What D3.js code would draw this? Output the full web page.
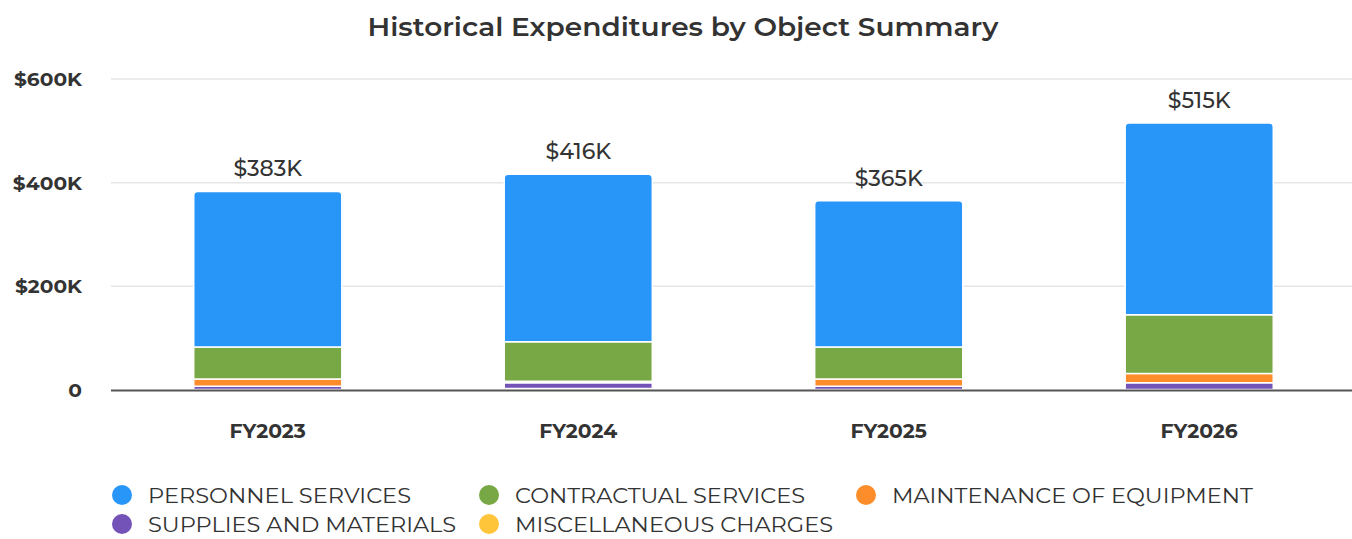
<!DOCTYPE html>
<html>
<head>
<meta charset="utf-8">
<script src="https://cdn.jsdelivr.net/npm/d3@7"></script>
<style>
  html, body { margin: 0; padding: 0; background: #fff; }
  svg { display: block; font-family: "Montserrat", "Noto Sans", "Open Sans", sans-serif; }
</style>
</head>
<body>
<svg id="chart" width="1352" height="539"></svg>
<script>
const categories = ["FY2023", "FY2024", "FY2025", "FY2026"];
const seriesNames = ["PERSONNEL SERVICES", "CONTRACTUAL SERVICES", "MAINTENANCE OF EQUIPMENT", "SUPPLIES AND MATERIALS", "MISCELLANEOUS CHARGES"];
const personnel   = [300, 323, 282, 370];
const contractual = [62, 76, 62, 113];
const maintenance = [14, 3, 14, 18];
const supplies    = [6, 11, 6, 13];
const misc        = [1, 3, 1, 1];
const totalLabels = ["$383K", "$416K", "$365K", "$515K"];
const yTicks = [0, 200, 400, 600];
const yTickLabels = ["0", "$200K", "$400K", "$600K"];
const colors = ["#2896f9", "#77a845", "#fd8d2b", "#7453b8", "#ffc53a"];

const seriesValues = [personnel, contractual, maintenance, supplies, misc];
const rows = categories.map((c, i) => {
  const r = { cat: c };
  seriesNames.forEach((s, j) => r[s] = seriesValues[j][i]);
  return r;
});

// widen text to mimic the wider original typeface
function stretch(sel, factor) {
  sel.each(function () {
    const w = this.getComputedTextLength();
    d3.select(this).attr("textLength", w * factor).attr("lengthAdjust", "spacingAndGlyphs");
  });
}

const svg = d3.select("#chart");
const W = 1352;
const x = d3.scaleBand().domain(categories).range([113, 1354]).paddingInner(0.523).paddingOuter(0.26);
const y = d3.scaleLinear().domain([0, 600]).range([390, 79]);

// title
svg.append("text").attr("x", 683).attr("y", 36).attr("text-anchor", "middle")
  .attr("font-size", 25).attr("font-weight", 600).attr("fill", "#333")
  .text("Historical Expenditures by Object Summary")
  .call(stretch, 1.12);

// grid
svg.append("g").selectAll("line").data(yTicks.filter(d => d > 0)).join("line")
  .attr("x1", 111).attr("x2", W).attr("y1", d => y(d)).attr("y2", d => y(d))
  .attr("stroke", "#e6e6e6").attr("stroke-width", 1.5);

// y labels
svg.append("g").selectAll("text").data(yTicks).join("text")
  .attr("x", 82).attr("y", d => y(d) + 7).attr("text-anchor", "end")
  .attr("font-size", 18).attr("font-weight", 700).attr("fill", "#333")
  .text((d, i) => yTickLabels[i])
  .call(stretch, 1.12);

// stack: bottom first
const stackKeys = seriesNames.slice().reverse();
const stack = d3.stack().keys(stackKeys)(rows);

const g = svg.append("g");
stack.forEach(layer => {
  const si = seriesNames.indexOf(layer.key);
  const isTop = si === 0;
  g.selectAll(null).data(layer).join("path")
    .attr("d", d => {
      const x0 = x(d.data.cat), w = x.bandwidth();
      const y0 = y(d[0]), y1 = y(d[1]);
      const h = y0 - y1;
      if (isTop) {
        const r = Math.min(4, h);
        return `M${x0},${y0}V${y1 + r}Q${x0},${y1} ${x0 + r},${y1}H${x0 + w - r}Q${x0 + w},${y1} ${x0 + w},${y1 + r}V${y0}Z`;
      }
      return `M${x0},${y0}V${y1}H${x0 + w}V${y0}Z`;
    })
    .attr("fill", colors[si])
    .attr("stroke", "#fff").attr("stroke-width", 1.5);
});

// axis line
svg.append("line").attr("x1", 111).attr("x2", W).attr("y1", 390.5).attr("y2", 390.5)
  .attr("stroke", "#555").attr("stroke-width", 2);

// totals
svg.append("g").selectAll("text").data(rows).join("text")
  .attr("x", d => x(d.cat) + x.bandwidth() / 2)
  .attr("y", d => y(d3.sum(seriesNames, s => d[s])) - 15)
  .attr("text-anchor", "middle").attr("font-size", 22).attr("font-weight", 500).attr("fill", "#333")
  .text((d, i) => totalLabels[i]);

// x labels
svg.append("g").selectAll("text").data(categories).join("text")
  .attr("x", d => x(d) + x.bandwidth() / 2).attr("y", 438)
  .attr("text-anchor", "middle").attr("font-size", 19).attr("font-weight", 700).attr("fill", "#333")
  .text(d => d)
  .call(stretch, 1.07);

// legend
const legendPos = [[122, 495], [489, 495], [866, 495], [122, 524], [489, 524]];
const legendWidths = [263, 290, 361, 308, 318];
const legend = svg.append("g").selectAll("g").data(seriesNames).join("g")
  .attr("transform", (d, i) => `translate(${legendPos[i][0]},${legendPos[i][1]})`);
legend.append("circle").attr("r", 10).attr("fill", (d, i) => colors[i]);
legend.append("text").attr("x", 26).attr("y", 8)
  .attr("font-size", 21).attr("font-weight", 400).attr("fill", "#333")
  .text(d => d)
  .attr("textLength", (d, i) => legendWidths[i]).attr("lengthAdjust", "spacingAndGlyphs");
</script>
</body>
</html>
